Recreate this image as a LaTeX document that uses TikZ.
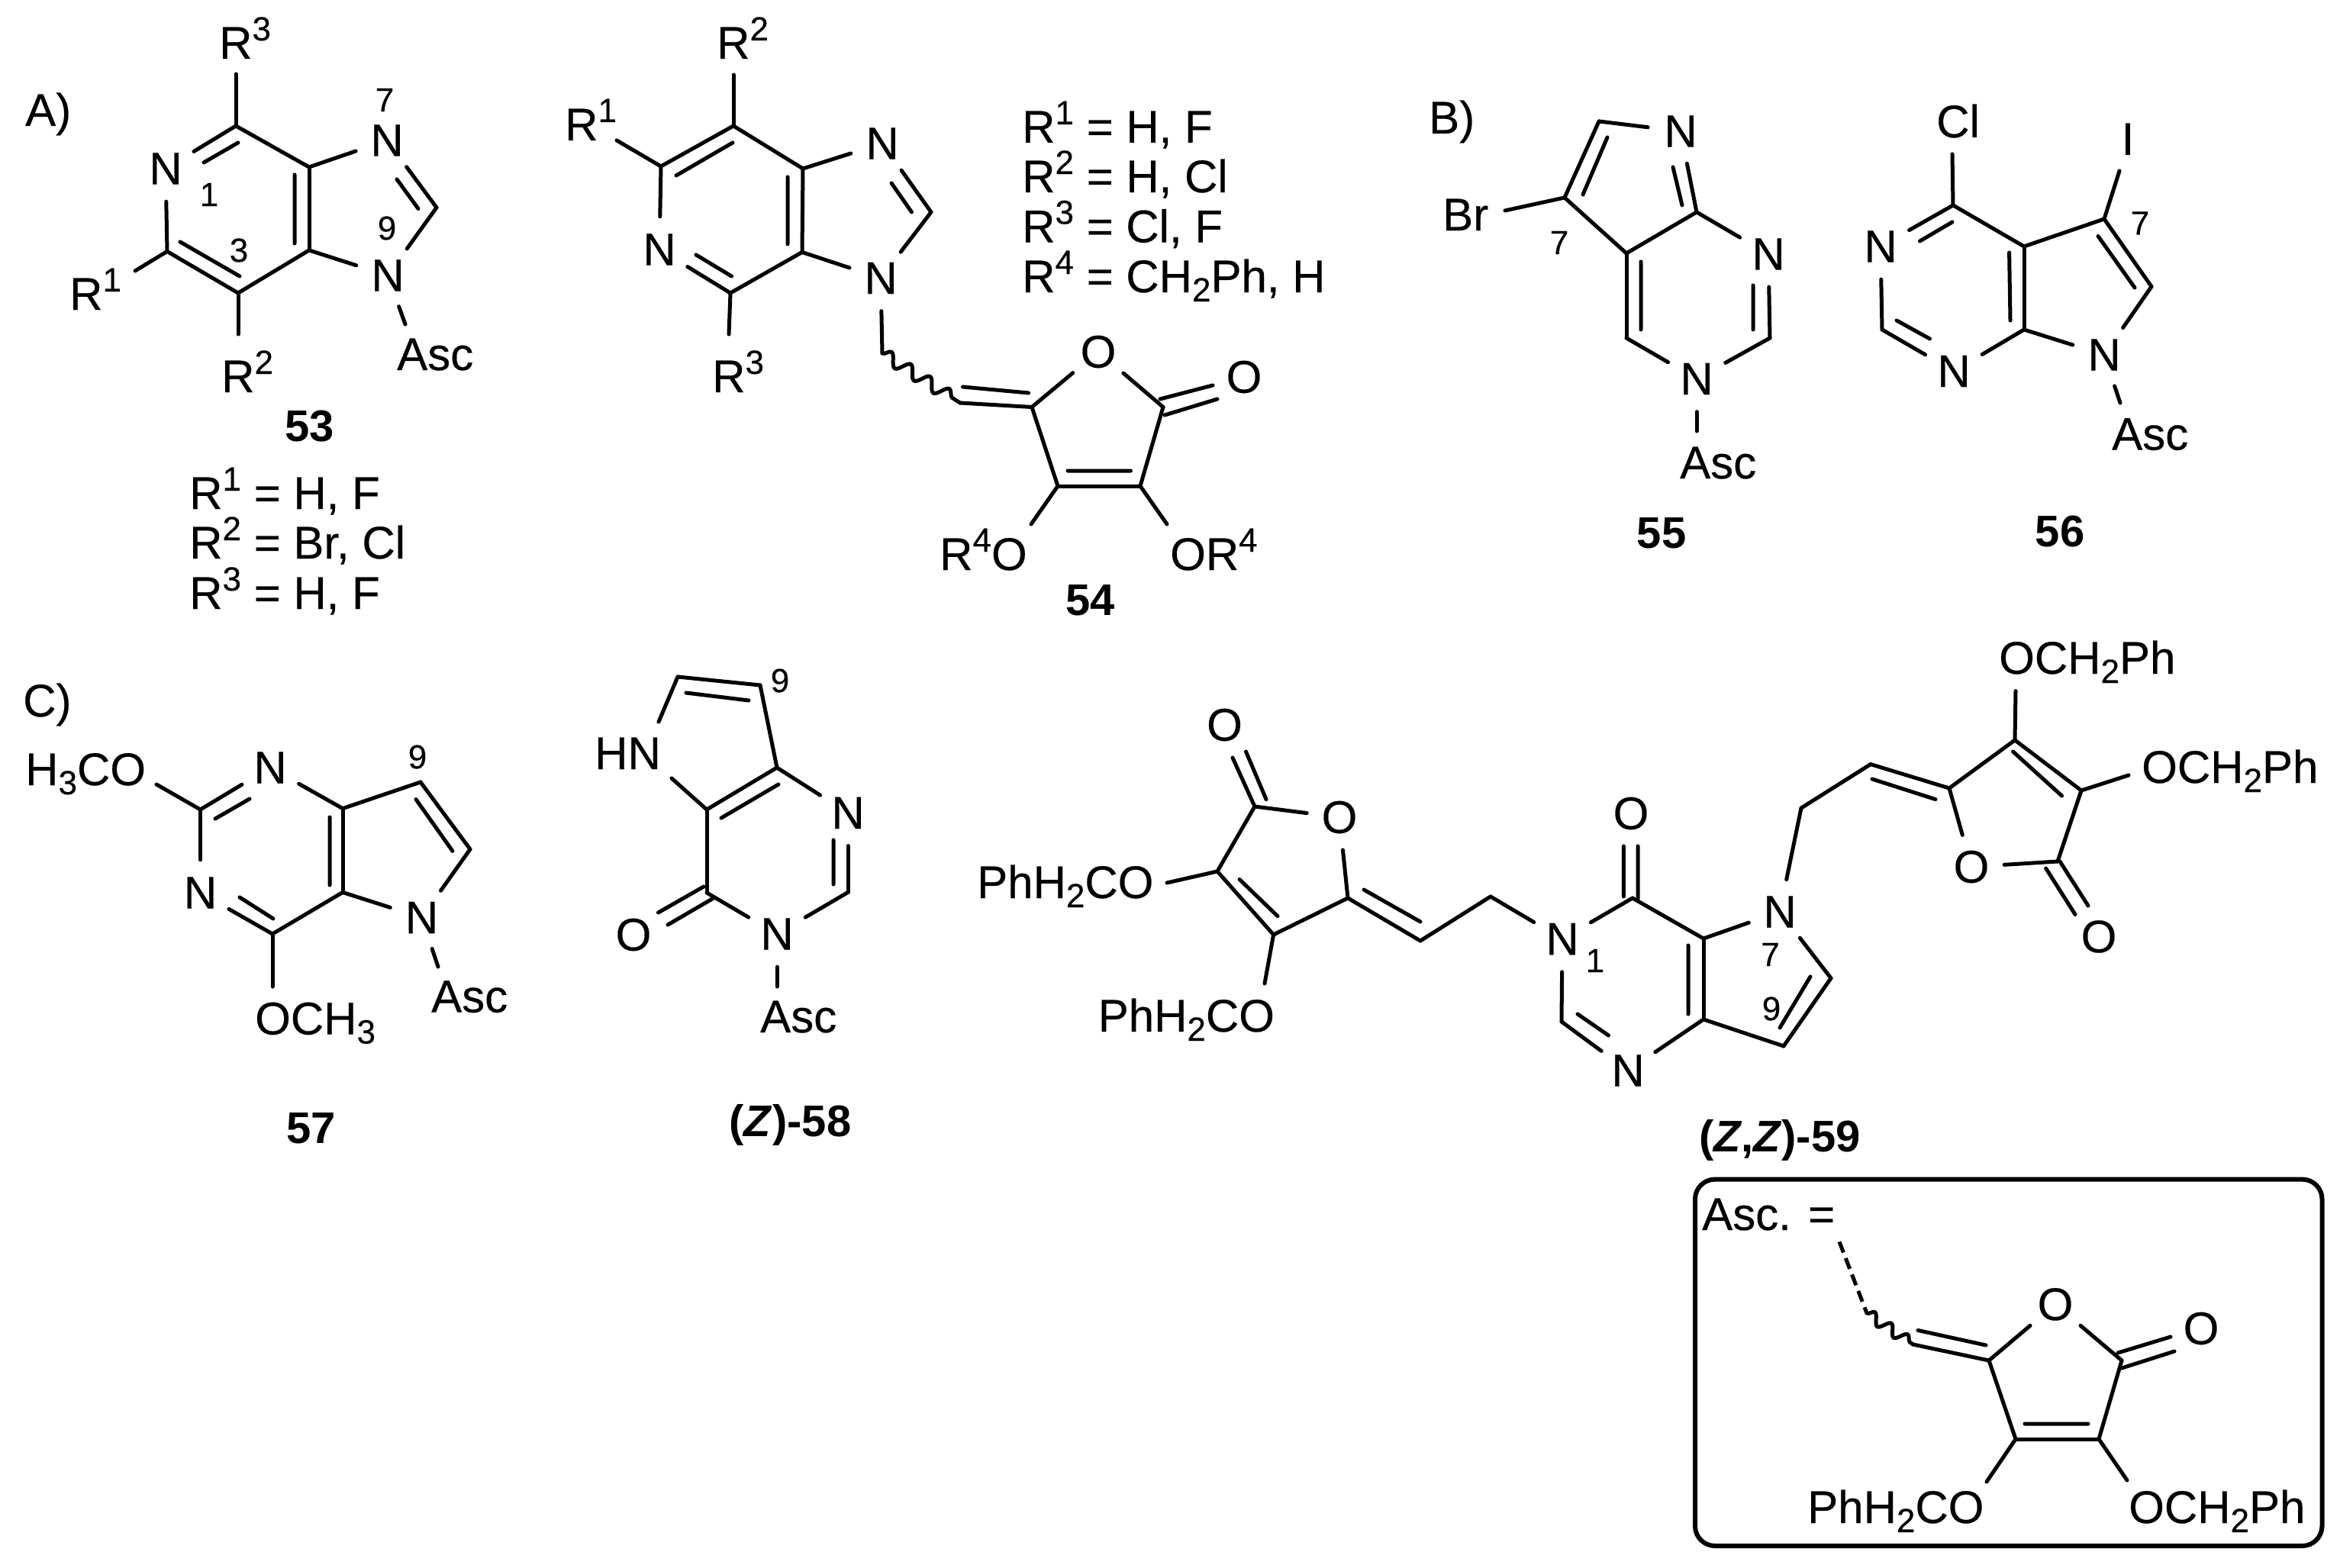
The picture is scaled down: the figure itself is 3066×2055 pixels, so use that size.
\documentclass[tikz,border=0pt]{standalone}
\usepackage{fontspec}
\setmainfont{Liberation Sans}
\usetikzlibrary{calc,decorations.pathmorphing}
\newcommand\chemfont{\fontsize{60}{66}\selectfont\addfontfeature{FakeBold=0.35}}
\newcommand\Sp[1]{\raisebox{24pt}{\fontsize{44}{44}\selectfont #1}}
\newcommand\Sb[1]{\raisebox{-12pt}{\fontsize{44}{44}\selectfont #1}}
\newcommand\bonds[1]{\foreach \a/\b in {#1} {\draw[bond] (\a) -- (\b);}}
\tikzset{
  bond/.style={line width=5pt,line cap=round,black},
  atom/.style={circle,inner sep=0pt,minimum size=86pt,font=\chemfont},
  lab/.style={anchor=base west,inner sep=0pt,xshift=-3pt,font=\chemfont},
  num/.style={inner sep=0pt,font=\fontsize{44}{46}\selectfont\addfontfeature{FakeBold=0.35}},
  cpd/.style={inner sep=0pt,font=\fontsize{58}{62}\selectfont\bfseries},
  wavy/.style={bond,decorate,decoration={snake,segment length=30pt,amplitude=8pt}},
  ascbox/.style={draw,line width=6pt,rounded corners=26pt},
}
\begin{document}
\begin{tikzpicture}[x=1pt,y=-1pt]
\useasboundingbox (0,0) rectangle (3066,2055);
% ---------- 53
\node[lab] (tA) at (36,165) {A)};
\coordinate (a1) at (309,165); \coordinate (a2) at (405,219); \coordinate (a3) at (405,328);
\coordinate (a4) at (312,384); \coordinate (a5) at (219,329.5); \coordinate (a6) at (572,272);
\node[atom] (aN1) at (217,221) {N}; \node[atom] (aN7) at (507,184) {N}; \node[atom] (aN9) at (508,361) {N};
\coordinate (aR3) at (309,97); \coordinate (aR1) at (177,355); \coordinate (aR2) at (312,438); \coordinate (aAs) at (531,425);
\bonds{a1/aN1,a1/a2,a2/a3,a3/a4,a4/a5,a5/aN1,a2/aN7,aN7/a6,a6/aN9,aN9/a3,a1/aR3,a5/aR1,a4/aR2,aN9/aAs}
\draw[bond] (267,213) -- (312,187) (386,229) -- (386,319) (236,317) -- (314,362) (520,235) -- (548,273.5);
\node[lab] (aT3) at (290,77) {R\Sp{3}}; \node[lab] (aT1) at (94,406) {R\Sp{1}}; \node[lab] (aT2) at (293,514) {R\Sp{2}};
\node[lab] (aTA) at (523,485) {Asc};
\node[num] (an1) at (274,255) {1}; \node[num] (an3) at (313,328) {3}; \node[num] (an7) at (504,131) {7}; \node[num] (an9) at (507,299) {9};
\node[cpd] (c53) at (406,558.6) {53};
\node[lab] (al1) at (251,667) {R\Sp{1} = H, F};
\node[lab] (al2) at (251,732) {R\Sp{2} = Br, Cl};
\node[lab] (al3) at (251,798) {R\Sp{3} = H, F};
% ---------- 54
\coordinate (b1) at (961,165); \coordinate (b2) at (866,218); \coordinate (b3) at (957,384);
\coordinate (b4) at (1052,221); \coordinate (b5) at (1051,330.5); \coordinate (b6) at (1220,278);
\node[atom] (bN) at (864,327) {N}; \node[atom] (bN7) at (1156,188) {N}; \node[atom] (bN9) at (1154,364.5) {N};
\coordinate (bR2) at (961,98); \coordinate (bR1) at (808,184); \coordinate (bR3) at (955,438);
\coordinate (bw1) at (1156,463); \coordinate (bw2) at (1258,528); \coordinate (b7) at (1352,533.5);
\node[atom] (bO) at (1439,461) {O}; \coordinate (b8) at (1524,533.5); \node[atom] (bOx) at (1630,494) {O};
\coordinate (b9) at (1494,637); \coordinate (b10) at (1386,637); \coordinate (bs1) at (1351,687); \coordinate (bs2) at (1529,687);
\bonds{b1/b2,b2/bN,bN/b3,b3/b5,b5/b4,b4/b1,b4/bN7,bN7/b6,b6/bN9,bN9/b5,b1/bR2,b2/bR1,b3/bR3,bN9/bw1,bw2/b7,b7/bO,bO/b8,b8/b9,b9/b10,b10/b7,b10/bs1,b9/bs2}
\draw[wavy] (bw1) -- (bw2);
\draw[bond] (886,230) -- (960,187) (912,334) -- (958.5,362) (1032,232) -- (1032,320) (1168,240) -- (1194.5,278)
  (1261.5,507) -- (1347.6,515) (1520,523) -- (1589,505) (1526,544) -- (1595,523) (1399,617) -- (1481.5,617);
\node[lab] (bT2) at (942,77) {R\Sp{2}}; \node[lab] (bT1) at (743,184) {R\Sp{1}}; \node[lab] (bT3) at (936,514) {R\Sp{3}};
\node[lab] (bT4) at (1234,747) {R\Sp{4}O}; \node[lab] (bT5) at (1536,747) {OR\Sp{4}};
\node[cpd] (c54) at (1428.6,787) {54};
\node[lab] (bl1) at (1342,187) {R\Sp{1} = H, F};
\node[lab] (bl2) at (1342,252) {R\Sp{2} = H, Cl};
\node[lab] (bl3) at (1342,317.5) {R\Sp{3} = Cl, F};
\node[lab] (bl4) at (1342,383) {R\Sp{4} = CH\Sb{2}Ph, H};
% ---------- 55
\node[lab] (tB) at (1875,175) {B)};
\coordinate (c1) at (2095,159); \coordinate (c2) at (2223,278); \coordinate (c3) at (2319,443);
\coordinate (c4) at (2131,443); \coordinate (c5) at (2131,332); \coordinate (c6) at (2050,259);
\node[atom] (cN1) at (2202,172) {N}; \node[atom] (cN3) at (2317,333) {N}; \node[atom] (cN5) at (2223,496.5) {N};
\coordinate (cBr) at (1972,276); \coordinate (cAs) at (2223,565);
\bonds{c1/cN1,cN1/c2,c2/cN3,cN3/c3,c3/cN5,cN5/c4,c4/c5,c5/c2,c5/c6,c6/c1,c6/cBr,cN5/cAs}
\draw[bond] (2106,180) -- (2074,255) (2192,219) -- (2204,269) (2150,343) -- (2150,432) (2297,374) -- (2297,432);
\node[lab] (cTB) at (1893,302) {Br}; \node[lab] (cTA) at (2204,627) {Asc};
\node[num] (cn7) at (2043,318) {7};
\node[cpd] (c55) at (2177,699) {55};
% ---------- 56
\coordinate (d1) at (2559,269); \coordinate (d2) at (2466,432); \coordinate (d3) at (2652,432);
\coordinate (d4) at (2652,323); \coordinate (d5) at (2757,287); \coordinate (d6) at (2819,375.6);
\node[atom] (dN3) at (2464,323) {N}; \node[atom] (dN1) at (2560,486.5) {N}; \node[atom] (dN7) at (2757,465) {N};
\coordinate (dCl) at (2558,202); \coordinate (dI) at (2777,224); \coordinate (dAs) at (2778,528);
\bonds{d1/dN3,dN3/d2,d2/dN1,dN1/d3,d3/d4,d4/d1,d4/d5,d5/d6,d6/dN7,dN7/d3,d1/dCl,d5/dI,dN7/dAs}
\draw[bond] (2515.5,316) -- (2558,291) (2485,420) -- (2528.5,444) (2632.6,331) -- (2634,420) (2749,309.5) -- (2797,377);
\node[lab] (dTC) at (2540,180) {Cl}; \node[lab,anchor=base] (dTI) at (2791,203) {I}; \node[lab] (dTA) at (2770,589.5) {Asc};
\node[num] (dn7) at (2804,292.5) {7};
\node[cpd] (c56) at (2699,696.5) {56};
% ---------- 57
\node[lab] (tC) at (33,939) {C)};
\coordinate (e1) at (262.5,1061); \coordinate (e2) at (449,1059.6); \coordinate (e3) at (551,1025);
\coordinate (e4) at (616,1113); \coordinate (e5) at (449,1169.5); \coordinate (e6) at (357,1224);
\node[atom] (eN3) at (354,1006) {N}; \node[atom] (eN5) at (552.5,1202.5) {N}; \node[atom] (eN1) at (262.5,1170) {N};
\coordinate (eOa) at (205,1028); \coordinate (eOb) at (357,1293); \coordinate (eAs) at (574,1267);
\bonds{e1/eN3,eN3/e2,e2/e5,e5/e6,e6/eN1,eN1/e1,e2/e3,e3/e4,e4/eN5,eN5/e5,e1/eOa,e6/eOb,eN5/eAs}
\draw[bond] (282,1073) -- (327,1047) (432,1071) -- (432,1160) (545,1047.6) -- (593,1115.4) (314,1176) -- (358,1204);
\node[lab] (eTa) at (36,1029) {H\Sb{3}CO}; \node[lab] (eTb) at (337,1355.6) {OCH\Sb{3}}; \node[lab] (eTA) at (568,1326.6) {Asc};
\node[num] (en9) at (547,992) {9};
\node[cpd] (c57) at (408,1479) {57};
% ---------- 58
\coordinate (f1) at (888,887); \coordinate (f2) at (996,898); \coordinate (f3) at (1018,1006);
\coordinate (f4) at (1111,1169.5); \coordinate (f5) at (926,1170); \coordinate (f6) at (926,1061);
\node[atom] (fN3) at (1111,1065.4) {N}; \node[atom] (fN1) at (1018,1224) {N}; \node[atom] (fO) at (830,1225) {O};
\coordinate (fh1) at (863,946); \coordinate (fh2) at (880,1020); \coordinate (fAs) at (1018,1293);
\bonds{f1/f2,f2/f3,f3/fN3,fN3/f4,f4/fN1,fN1/f5,f5/f6,f6/f3,f1/fh1,f6/fh2,fN1/fAs}
\draw[bond] (899,908) -- (981,918) (945,1072) -- (1020,1028) (1092,1101) -- (1092,1159)
  (862.5,1196) -- (922,1162) (875,1212) -- (935,1177);
\node[lab] (fTH) at (782,1008) {HN}; \node[lab] (fTA) at (999,1353) {Asc};
\node[num] (fn9) at (1022,892) {9};
\node[cpd] (c58) at (1035.5,1474) {(\textit{Z})-58};
% ---------- 59
\node[atom] (gOx) at (1604.5,950) {O}; \coordinate (g1) at (1644,1057); \node[atom] (gO) at (1755,1071) {O};
\coordinate (g2) at (1766,1177); \coordinate (g3) at (1668.6,1225); \coordinate (g4) at (1595,1142);
\coordinate (gs1) at (1529,1157); \coordinate (gs2) at (1657,1289);
\coordinate (g5) at (1861,1233); \coordinate (g6) at (1953,1175);
\node[atom] (gN1) at (2047,1230.6) {N}; \coordinate (g7) at (2139,1177); \node[atom] (gOc) at (2137,1066) {O};
\coordinate (g8) at (2232,1230); \coordinate (g9) at (2232,1336); \node[atom] (gN3) at (2133,1403) {N};
\coordinate (g10) at (2046,1339); \node[atom] (gN7) at (2332,1195) {N};
\coordinate (g11) at (2399,1282); \coordinate (g12) at (2337,1371);
\coordinate (g13) at (2360,1059); \coordinate (g14) at (2451,1001.6); \coordinate (g15) at (2554,1033);
\coordinate (g16) at (2640,970); \node[atom] (gO2) at (2583,1136) {O}; \coordinate (g17) at (2727,1036);
\coordinate (g18) at (2696,1129); \node[atom] (gOy) at (2750,1227.5) {O};
\coordinate (gs3) at (2641,905.6); \coordinate (gs4) at (2789,1016);
\bonds{g1/gO,gO/g2,g2/g3,g3/g4,g4/g1,g4/gs1,g3/gs2,g2/g5,g5/g6,g6/gN1,gN1/g7,g7/g8,g8/g9,g9/gN3,gN3/g10,g10/gN1,g8/gN7,gN7/g11,g11/g12,g12/g9,gN7/g13,g13/g14,g14/g15,g15/g16,g16/g17,g17/g18,g18/gO2,gO2/g15,g16/gs3,g17/gs4}
\draw[bond] (1615,993) -- (1644,1057) (1632.5,985) -- (1659,1047.6) (1624,1152.5) -- (1674,1200.7) (1787,1166) -- (1861,1208)
  (2127.4,1109) -- (2127.4,1175) (2146,1109) -- (2146,1178) (2212,1239) -- (2212,1329) (2372,1280) -- (2332,1347)
  (2067,1329) -- (2107.6,1357) (2453,1021) -- (2536,1047.6) (2637.5,985) -- (2701.5,1043)
  (2680.6,1138) -- (2719,1198.5) (2699,1129) -- (2736,1187);
\node[lab] (gT1) at (1283,1177) {PhH\Sb{2}CO}; \node[lab] (gT2) at (1441.5,1352) {PhH\Sb{2}CO};
\node[lab] (gT3) at (2622,883) {OCH\Sb{2}Ph}; \node[lab] (gT4) at (2809,1026) {OCH\Sb{2}Ph};
\node[num] (gn1) at (2090,1259) {1}; \node[num] (gn7) at (2319.5,1251) {7}; \node[num] (gn9) at (2321,1322) {9};
\node[cpd] (c59) at (2332,1494) {(\textit{Z},\textit{Z})-59};
% ---------- box
\draw[ascbox] (2221,1545.6) rectangle (3042.5,2026);
\node[lab] (hT) at (2233,1612) {Asc. =};
\coordinate (hd1) at (2410,1627.5); \coordinate (hd2) at (2446,1721); \coordinate (hd3) at (2506.6,1762);
\coordinate (h1) at (2606,1783); \node[atom] (hO) at (2693,1709.4) {O}; \coordinate (h2) at (2780,1783);
\node[atom] (hOx) at (2884,1741) {O}; \coordinate (h3) at (2750,1886); \coordinate (h4) at (2641,1886);
\coordinate (hs1) at (2603,1942); \coordinate (hs2) at (2787,1940);
\draw[bond,line cap=butt,dash pattern=on 15pt off 8pt] (hd1) -- (hd2);
\draw[wavy,decoration={segment length=26pt,amplitude=7pt}] (hd2) -- (hd3);
\bonds{hd3/h1,h1/hO,hO/h2,h2/h3,h3/h4,h4/h1,h4/hs1,h3/hs2}
\draw[bond] (2513,1743.5) -- (2602,1763) (2775,1773) -- (2844,1752) (2780,1793) -- (2849,1771) (2653,1866) -- (2736,1866);
\node[lab] (hT1) at (2371,1996) {PhH\Sb{2}CO}; \node[lab] (hT2) at (2792,1996) {OCH\Sb{2}Ph};
\end{tikzpicture}
\end{document}
